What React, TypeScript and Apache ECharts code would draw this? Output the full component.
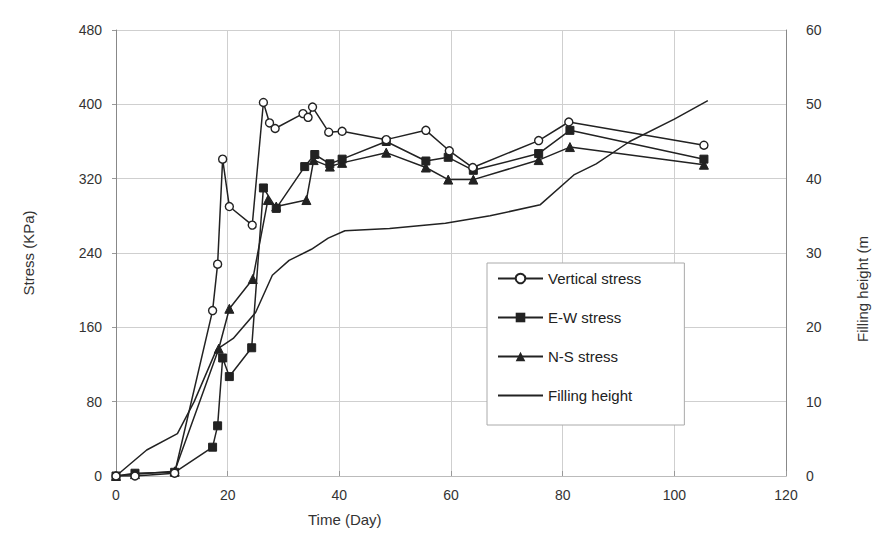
import React, { useEffect, useRef } from "react";
import * as echarts from "echarts";

const xTicks = [0, 20, 40, 60, 80, 100, 120];
const stressTicks = [0, 80, 160, 240, 320, 400, 480];
const heightTicks = [0, 10, 20, 30, 40, 50, 60];

const vDays = [0, 3.4, 10.5, 17.3, 18.2, 19.1, 20.3, 24.4, 26.4, 27.5, 28.5, 33.5, 34.4, 35.2, 38.1, 40.5, 48.4, 55.5, 59.7, 63.9, 75.7, 81.1, 105.3];
const vStress = [0, 0, 3, 178, 228, 341, 290, 270, 402, 380, 374, 390, 386, 397, 370, 371, 362, 372, 350, 332, 361, 381, 356];

const ewDays = [0, 3.4, 10.5, 17.3, 18.2, 19.1, 20.3, 24.3, 26.4, 28.7, 33.8, 35.6, 38.3, 40.5, 48.4, 55.5, 59.5, 64, 75.7, 81.3, 105.3];
const ewStress = [0, 3, 4, 31, 54, 127, 107, 138, 310, 288, 333, 346, 336, 341, 360, 339, 343, 329, 347, 372, 341];

const nsDays = [0, 3.4, 10.5, 18.4, 20.3, 24.5, 27.2, 28.7, 34.1, 35.4, 38.3, 40.5, 48.4, 55.5, 59.5, 64, 75.7, 81.3, 105.3];
const nsStress = [0, 2, 5, 137, 180, 212, 297, 290, 297, 340, 333, 337, 348, 332, 319, 319, 340, 354, 335];

const fDays = [0, 5.5, 11, 14, 18, 21, 25, 28, 31, 35, 38, 41, 49, 59, 67, 76, 82, 86, 92, 100, 106];
const fHeight = [0, 3.5, 5.7, 10, 17, 18.5, 22, 27, 29, 30.5, 32, 33, 33.3, 34, 35, 36.5, 40.5, 42, 45, 48, 50.5];

const pairs = (xs: number[], ys: number[]) => xs.map((x, i) => [x, ys[i]]);

const FONT = "Liberation Sans, Arial, sans-serif";
const INK = "#222";

export default function App() {
  const ref = useRef<HTMLDivElement>(null);
  useEffect(() => {
    if (!ref.current) return;
    const chart = echarts.init(ref.current, undefined, { renderer: "svg" });
    const lineStyle = { color: INK, width: 1.5 };
    chart.setOption({
      animation: false,
      backgroundColor: "#fff",
      textStyle: { fontFamily: FONT },
      grid: { left: 116, right: 92, top: 30, bottom: 81, containLabel: false },
      xAxis: {
        type: "value",
        min: xTicks[0],
        max: xTicks[xTicks.length - 1],
        interval: 20,
        axisLine: { show: true, lineStyle: { color: "#bbb" } },
        axisTick: { show: true, inside: true, length: 5, lineStyle: { color: "#999" } },
        axisLabel: { margin: 12, fontSize: 14, color: "#333", fontFamily: FONT },
        splitLine: { show: true, lineStyle: { color: "#cfcfcf", width: 1 } },
      },
      yAxis: [
        {
          type: "value",
          min: stressTicks[0],
          max: stressTicks[stressTicks.length - 1],
          interval: 80,
          name: "Stress (KPa)",
          nameLocation: "middle",
          nameGap: 80,
          nameTextStyle: { fontSize: 15, color: "#333", fontFamily: FONT },
          axisLine: { show: true, lineStyle: { color: "#888" } },
          axisTick: { show: true, length: 4, lineStyle: { color: "#999" } },
          axisLabel: { margin: 14, fontSize: 14, color: "#333", fontFamily: FONT },
          splitLine: { show: true, lineStyle: { color: "#cfcfcf", width: 1 } },
        },
        {
          type: "value",
          min: heightTicks[0],
          max: heightTicks[heightTicks.length - 1],
          interval: 10,
          position: "right",
          axisLine: { show: true, lineStyle: { color: "#888" } },
          axisTick: { show: false },
          axisLabel: { margin: 20, fontSize: 14, color: "#333", fontFamily: FONT },
          splitLine: { show: false },
        },
      ],
      legend: {
        orient: "vertical",
        left: 487,
        top: 263,
        itemWidth: 45,
        itemHeight: 12,
        itemGap: 24,
        padding: [8, 43, 22, 10],
        borderColor: "#aaa",
        borderWidth: 1,
        backgroundColor: "#fff",
        textStyle: { fontSize: 15, color: INK, fontFamily: FONT },
        data: [
          "Vertical stress",
          "E-W stress",
          "N-S stress",
          { name: "Filling height", itemStyle: { opacity: 0 } },
        ],
      },
      graphic: [
        {
          type: "text",
          left: 308,
          top: 512,
          style: { text: "Time (Day)", fontSize: 15, fill: "#333", fontFamily: FONT },
        },
        {
          type: "text",
          x: 855,
          y: 342,
          rotation: Math.PI / 2,
          style: { text: "Filling height (m", fontSize: 15, fill: "#333", fontFamily: FONT },
        },
      ],
      series: [
        {
          name: "Vertical stress",
          type: "line",
          yAxisIndex: 0,
          data: pairs(vDays, vStress),
          symbol: "circle",
          symbolSize: 8,
          z: 5,
          lineStyle,
          itemStyle: { color: "#fff", borderColor: INK, borderWidth: 1.4 },
        },
        {
          name: "E-W stress",
          type: "line",
          yAxisIndex: 0,
          data: pairs(ewDays, ewStress),
          symbol: "rect",
          symbolSize: 8,
          z: 4,
          lineStyle,
          itemStyle: { color: INK, borderColor: INK },
        },
        {
          name: "N-S stress",
          type: "line",
          yAxisIndex: 0,
          data: pairs(nsDays, nsStress),
          symbol: "triangle",
          symbolSize: 9,
          z: 3,
          lineStyle,
          itemStyle: { color: INK, borderColor: INK },
        },
        {
          name: "Filling height",
          type: "line",
          yAxisIndex: 1,
          data: pairs(fDays, fHeight),
          symbol: "none",
          z: 2,
          lineStyle: { color: INK, width: 1.5 },
          itemStyle: { color: INK },
        },
      ],
    });
    return () => chart.dispose();
  }, []);
  return <div ref={ref} style={{ width: 878, height: 557, position: "absolute", left: 0, top: 0 }} />;
}
